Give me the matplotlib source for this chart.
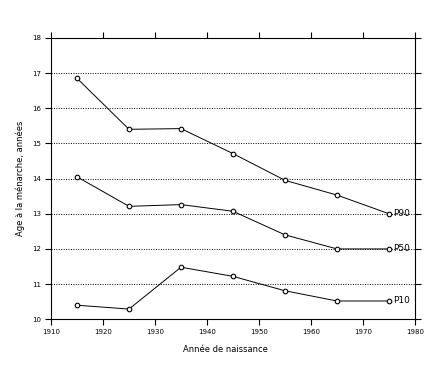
import matplotlib
matplotlib.use("Agg")
import matplotlib.pyplot as plt

# birth cohorts (year of birth) and percentile curves of age at menarche
years = [1915, 1925, 1935, 1945, 1955, 1965, 1975]
p90 = [16.85, 15.40, 15.42, 14.71, 13.95, 13.53, 13.00]
p50 = [14.05, 13.21, 13.26, 13.07, 12.40, 12.00, 12.00]
p10 = [10.40, 10.29, 11.48, 11.22, 10.81, 10.52, 10.52]
series_names = ["P90", "P50", "P10"]

x_ticks = list(range(1910, 1990, 10))
y_ticks = list(range(10, 19))

plt.rcParams["font.family"] = ["DejaVu Sans"]

fig = plt.figure(figsize=(4.42, 3.71), dpi=100)
ax = fig.add_axes([0.1154, 0.1394, 0.8235, 0.7586])

# dotted horizontal guides
for yv in y_ticks[1:-1]:
    ax.axhline(yv, color="black", lw=0.7, ls=(0, (1, 1.5)), zorder=1)

for name, vals in zip(series_names, [p90, p50, p10]):
    ax.plot(years, vals, color="black", lw=0.7, marker="o", ms=3.3,
            mfc="white", mec="black", mew=0.8, zorder=3)
    ax.text(years[-1] + 0.8, vals[-1], name, fontsize=6.5, va="center",
            ha="left", zorder=4)

ax.set_xlim(1910, 1980)
ax.set_ylim(10, 18)
ax.set_xticks(x_ticks)
ax.set_yticks(y_ticks)
ax.tick_params(direction="out", length=4, width=0.8, labelsize=5,
               top=True, right=True, labeltop=False, labelright=False)
ax.tick_params(axis="x", pad=3)
ax.tick_params(axis="y", pad=3)
for s in ax.spines.values():
    s.set_linewidth(0.8)

ax.set_xlabel("Année de naissance", fontsize=6, labelpad=4)
ax.xaxis.set_label_coords(0.48, -0.09)
ax.set_ylabel("Age à la ménarche, années", fontsize=6, labelpad=5)

fig.savefig("out.png", dpi=100)
